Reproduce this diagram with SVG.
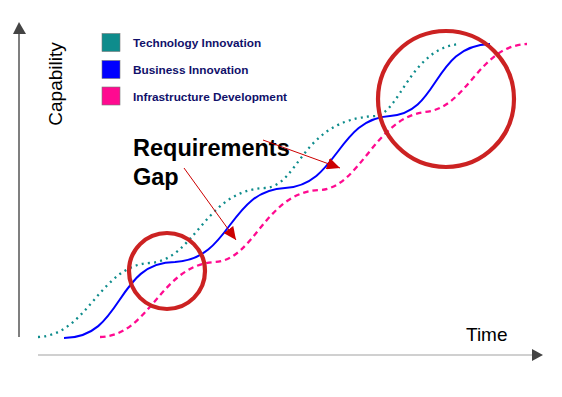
<svg xmlns="http://www.w3.org/2000/svg" width="562" height="397" viewBox="0 0 562 397">
<style>
.lbl{font-family:"Liberation Sans",Arial,sans-serif;fill:#000}
.leg{font-family:"Liberation Sans",Arial,sans-serif;font-weight:bold;font-size:11.8px;fill:#10106a}
.big{font-family:"Liberation Sans",Arial,sans-serif;font-weight:bold;font-size:23.5px;fill:#000}
.sw{stroke:#777;stroke-width:0.6}
.ring{fill:none;stroke:#cc2222;stroke-width:4.2}
.ptr{stroke:#cc0000;stroke-width:1;fill:none;marker-end:url(#rh)}
</style>
<defs>
<marker id="rh" markerUnits="userSpaceOnUse" markerWidth="14" markerHeight="12" refX="13" refY="6" orient="auto">
<path d="M0,0 L13,6 L0,12 Z" fill="#cc0000"/>
</marker>
</defs>
<g id="axes">
<line x1="19" y1="32" x2="19" y2="337" stroke="#555" stroke-width="1.5"/>
<path d="M13,34 L19,22 L26,34 Z" fill="#444"/>
<line x1="38" y1="355" x2="533" y2="355" stroke="#d0d0d0" stroke-width="2"/>
<path d="M532,349 L543,355 L532,361 Z" fill="#444"/>
<text class="lbl" font-size="19" transform="translate(62,84) rotate(-90)" text-anchor="middle">Capability</text>
<text class="lbl" font-size="19" x="466" y="341">Time</text>
</g>
<g id="legend">
<rect class="sw" x="102" y="33.5" width="18" height="18" fill="#0e8c8c"/>
<rect class="sw" x="102" y="60.5" width="18" height="18" fill="#0000ff"/>
<rect class="sw" x="102" y="87" width="18" height="18" fill="#ff0a90"/>
<text class="leg" x="133" y="47">Technology Innovation</text>
<text class="leg" x="133" y="74">Business Innovation</text>
<text class="leg" x="133" y="101">Infrastructure Development</text>
</g>
<g id="curves">
<path id="technology" d="M38,337 C88,335 100,265 150,263 C195,260 205,190 265,188 C300,186 300,120 375,116 C400,114 410,48 460,44" fill="none" stroke="#0e8c8c" stroke-width="2.3" stroke-dasharray="2 4.2"/>
<path id="business" d="M64,338 C124,338 115,262 175,262 C232,259 228,191 285,188 C338,185 337,119 390,116 C440,113 432,46 490,44" fill="none" stroke="#0000ff" stroke-width="2"/>
<path id="infrastructure" d="M100,337 C150,336 160,265 215,262 C255,260 265,192 320,190 C360,188 375,118 425,112 C468,108 478,46 527,44" fill="none" stroke="#ff0a90" stroke-width="2.3" stroke-dasharray="5.5 4"/>
</g>
<g id="highlights">
<circle class="ring" cx="167" cy="271" r="38"/>
<circle class="ring" cx="446" cy="99" r="68"/>
</g>
<g id="gap-label">
<text class="big" x="133" y="156">Requirements</text>
<text class="big" x="133" y="185">Gap</text>
</g>
<g id="connectors">
<line class="ptr" x1="263" y1="140" x2="340" y2="168"/>
<line class="ptr" x1="184" y1="168" x2="236" y2="240"/>
</g>
</svg>
